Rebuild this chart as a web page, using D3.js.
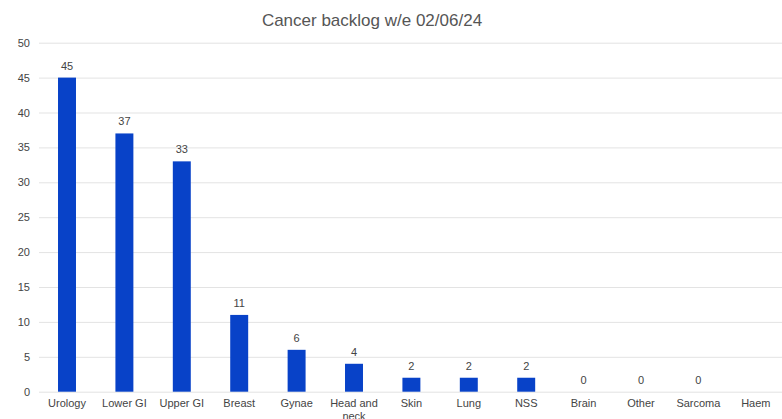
<!DOCTYPE html>
<html><head><meta charset="utf-8">
<script src="https://cdn.jsdelivr.net/npm/d3@7"></script>
<style>html,body{margin:0;padding:0;background:#fff;overflow:hidden}</style>
</head><body><svg id="c" width="782" height="419"></svg>
<script>
const categories = ["Urology","Lower GI","Upper GI","Breast","Gynae","Head and neck","Skin","Lung","NSS","Brain","Other","Sarcoma","Haem"];
const values = [45,37,33,11,6,4,2,2,2,0,0,0,null];
const yTicks = [0,5,10,15,20,25,30,35,40,45,50];
const title = "Cancer backlog w/e 02/06/24";

const font = "'Liberation Sans', Arial, sans-serif";
const svg = d3.select("#c");
const x = d3.scaleBand().domain(categories).range([38.3, 784.5]).paddingInner(0.687).paddingOuter(0.3435);
const y = d3.scaleLinear().domain([0,50]).range([391.7, 42.7]);

svg.append("text").attr("x",372).attr("y",26).attr("text-anchor","middle")
  .attr("font-family",font).attr("font-size",17).attr("fill","#555").text(title);

const gy = svg.append("g").attr("transform","translate(39,0)")
  .call(d3.axisLeft(y).tickValues(yTicks).tickSize(-750).tickPadding(9));
gy.select(".domain").remove();
gy.selectAll(".tick line").attr("stroke","#e3e3e3");
gy.selectAll(".tick text").attr("font-family",font).attr("font-size",11).attr("fill","#444");

const gx = svg.append("g").attr("transform","translate(0,391.7)")
  .call(d3.axisBottom(x).tickSize(0).tickPadding(8));
gx.select(".domain").remove();
gx.selectAll(".tick text").attr("font-family",font).attr("font-size",11).attr("fill","#444")
  .each(function(d){
    const t = d3.select(this);
    if (d === "Head and neck") {
      t.text(null);
      t.append("tspan").attr("x",0).attr("dy","0.71em").text("Head and");
      t.append("tspan").attr("x",0).attr("dy","1.1em").text("neck");
      t.attr("dy",null);
    }
  });

const data = categories.map((c,i)=>({c, v: values[i]}));
svg.append("g").selectAll("rect").data(data.filter(d=>d.v!=null && d.v>0)).join("rect")
  .attr("x",d=>x(d.c)).attr("width",x.bandwidth())
  .attr("y",d=>y(d.v)).attr("height",d=>y(0)-y(d.v)).attr("fill","#0842c8");

svg.append("g").selectAll("text").data(data.filter(d=>d.v!=null)).join("text")
  .attr("x",d=>x(d.c)+x.bandwidth()/2).attr("y",d=>y(d.v)-8)
  .attr("text-anchor","middle").attr("font-family",font).attr("font-size",11).attr("fill","#444")
  .text(d=>d.v);
</script></body></html>
